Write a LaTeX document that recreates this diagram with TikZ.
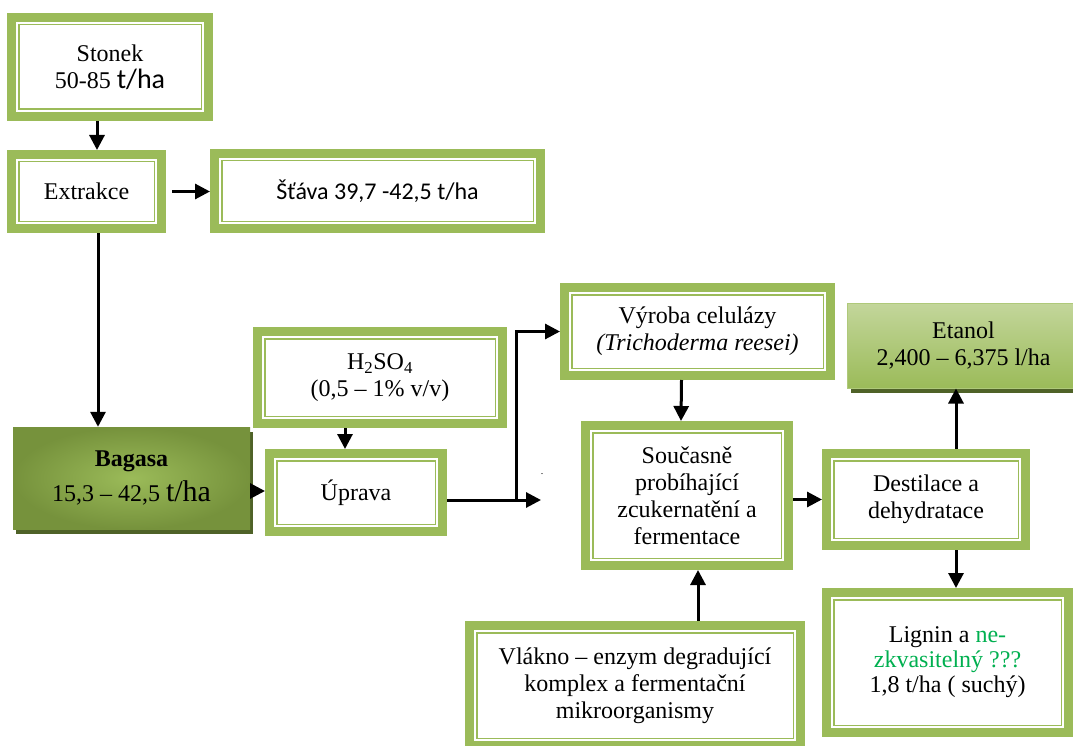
\documentclass[tikz,border=0pt]{standalone}
\usepackage{fontspec}
\setmainfont{Liberation Serif}
\newfontfamily\calibri{Carlito}
\usetikzlibrary{arrows.meta,shadows}
\definecolor{boxgreen}{HTML}{9BBB59}
\definecolor{baggreen}{HTML}{76923C}
\definecolor{darkgreen}{HTML}{4F6228}
\definecolor{etanoltop}{HTML}{C3D69B}
\definecolor{notegreen}{HTML}{00B050}
\begin{document}
\begin{tikzpicture}[x=1pt,y=-1pt,
    every node/.style={align=center,inner sep=0pt,font=\fontsize{24}{27}\selectfont},
    dbox/.style={draw=boxgreen,line width=9pt,
      path picture={\draw[boxgreen,line width=1.6pt]
        ([xshift=7.2pt,yshift=-7.2pt]path picture bounding box.north west) rectangle
        ([xshift=-7.2pt,yshift=7.2pt]path picture bounding box.south east);}},
    bagbox/.style={inner color=boxgreen,outer color=baggreen,
      general shadow={fill=darkgreen,shadow xshift=3pt,shadow yshift=-5pt}},
    etanolbox/.style={top color=etanoltop,bottom color=boxgreen,draw=boxgreen!80!white,line width=1pt,
      general shadow={fill=darkgreen,shadow xshift=4pt,shadow yshift=-5pt}},
    arr/.style={line width=3pt,-{Triangle[length=15pt,width=15pt]}},
    ln/.style={line width=3pt}]
  \fill[white] (0,0) rectangle (1073,746);
  \useasboundingbox (0,0) rectangle (1073,746);

  \node[dbox,minimum width=197pt,minimum height=99pt] (stonek) at (110,67)
    {Stonek\\50-85 {\calibri\fontsize{28}{27}\selectfont t/ha}};
  \node[dbox,minimum width=150pt,minimum height=74pt] (extrakce) at (86.5,191.5) {Extrakce};
  \node[dbox,minimum width=326pt,minimum height=75pt] (stava) at (377.5,191)
    {\calibri Šťáva 39,7 -42,5 t/ha};
  \node[bagbox,minimum width=237pt,minimum height=102pt] (bagasa) at (131.5,478)
    {\textbf{Bagasa}\\[8pt]15,3 – 42,5 {\fontsize{30}{27}\selectfont t/ha}};
  \node[dbox,minimum width=245pt,minimum height=92pt] (h2so4) at (380,377.5)
    {H\textsubscript{2}SO\textsubscript{4}\\(0,5 – 1\% v/v)};
  \node[dbox,minimum width=173pt,minimum height=78pt] (uprava) at (356,492.5) {Úprava};
  \node[dbox,minimum width=266pt,minimum height=88pt] (vyroba) at (697.5,331.5)
    {Výroba celulázy\\\textit{(Trichoderma reesei)}};
  \node[dbox,minimum width=203pt,minimum height=140pt] (soucasne) at (687,495.5)
    {Současně\\probíhající\\zcukernatění a\\fermentace};
  \node[dbox,minimum width=199pt,minimum height=92pt] (destilace) at (926,499.5)
    {Destilace a\\dehydratace};
  \node[etanolbox,minimum width=233pt,minimum height=85pt] (etanol) at (963.5,345.5)
    {Etanol\\2,400 – 6,375 l/ha};
  \node[dbox,minimum width=242pt,minimum height=140pt,font=\fontsize{24}{25}\selectfont] (lignin) at (947.5,662.5)
    {Lignin a \textcolor{notegreen}{ne-}\\\textcolor{notegreen}{zkvasitelný ???}\\1,8 t/ha ( suchý)};
  \node[dbox,minimum width=331pt,minimum height=120pt] (vlakno) at (635,685.5)
    {Vlákno – enzym degradující\\komplex a fermentační\\mikroorganismy};
  \node[font=\fontsize{10}{10}\selectfont] (tecka) at (542,474) {.};

  \coordinate (split) at (516,500);
  \coordinate (kurace) at (541,500);

  \draw[arr] ([xshift=-13pt]stonek.south) -- ([xshift=-13pt]stonek.south |- extrakce.north);
  \draw[arr] ([xshift=6pt]extrakce.east) -- (extrakce.east -| stava.west);
  \draw[arr] ([xshift=11.5pt]extrakce.south) -- ([xshift=11.5pt]extrakce.south |- bagasa.north);
  \draw[arr] ([yshift=-13pt]bagasa.east) -- ([yshift=-13pt]bagasa.east -| uprava.west);
  \draw[arr] ([xshift=-35pt]h2so4.south) -- ([xshift=-35pt]h2so4.south |- uprava.north);
  \draw[ln] ([yshift=-7.5pt]uprava.east) -- (split);
  \draw[arr] (split) -- (kurace);
  \draw[arr] (split) |- (vyroba.west);
  \draw[arr] ([xshift=-16pt]vyroba.south) -- ([xshift=-6pt]soucasne.north);
  \draw[arr] (soucasne.east |- destilace.west) -- (destilace.west);
  \draw[arr] ([xshift=30pt]destilace.north) -- ([xshift=30pt]destilace.north |- etanol.south);
  \draw[arr] ([xshift=30pt]destilace.south) -- ([xshift=30pt]destilace.south |- lignin.north);
  \draw[arr] ([xshift=63pt]vlakno.north) -- ([xshift=63pt]vlakno.north |- soucasne.south);
\end{tikzpicture}
\end{document}
